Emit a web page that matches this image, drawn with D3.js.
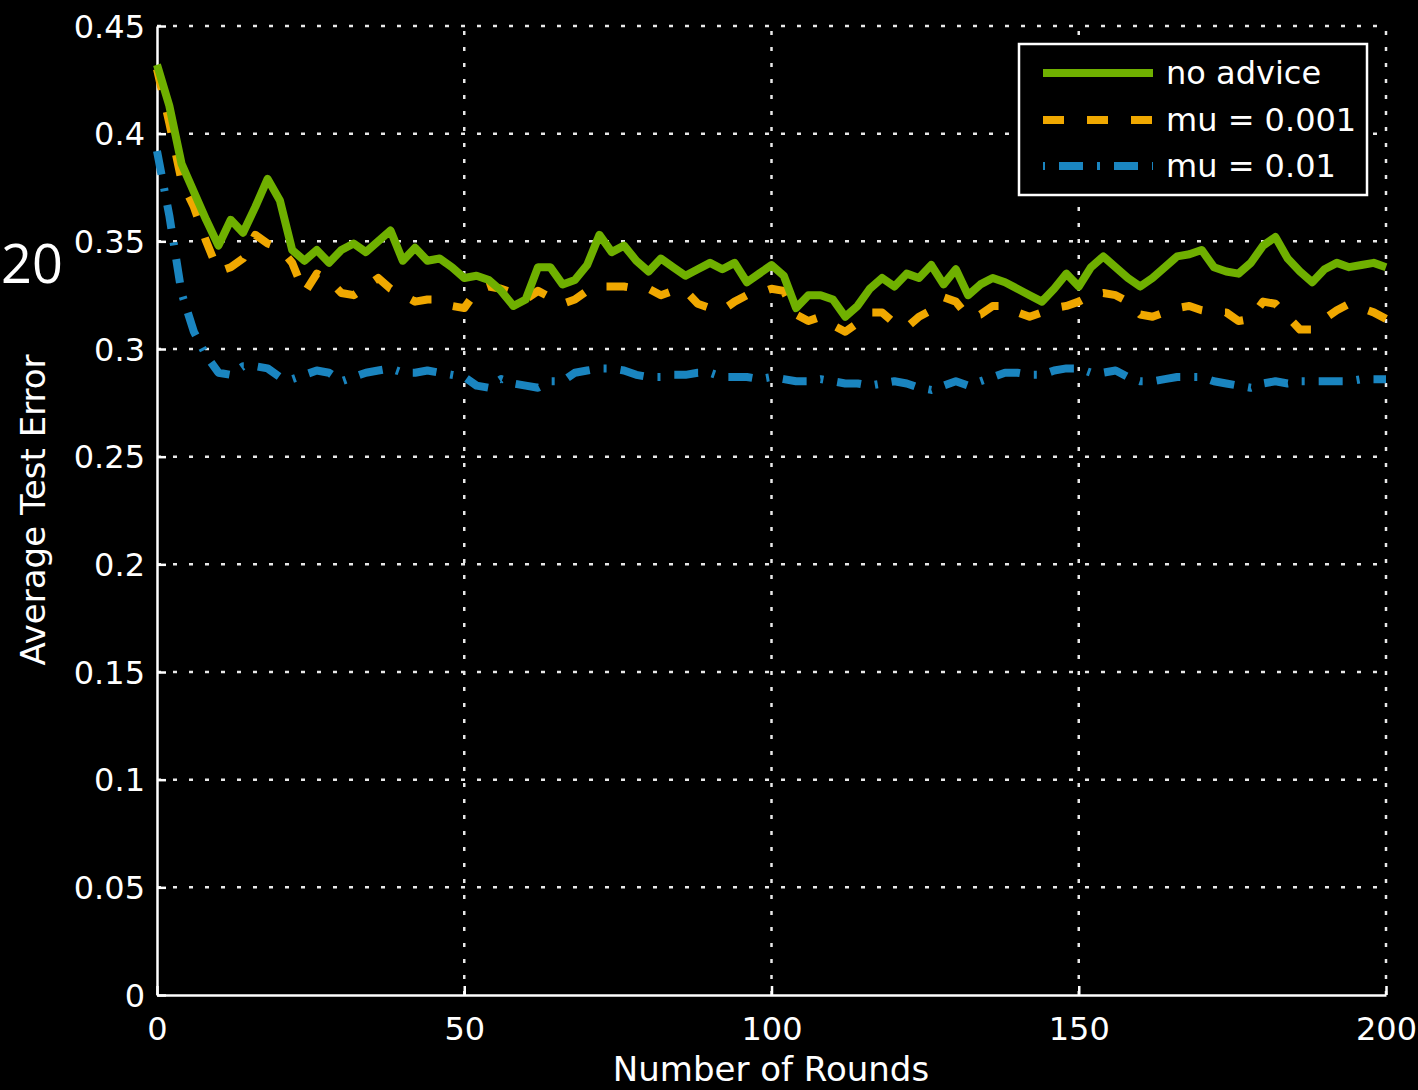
<!DOCTYPE html>
<html><head><meta charset="utf-8">
<script src="https://cdn.jsdelivr.net/npm/d3@7"></script>
<style>html,body{margin:0;padding:0;background:#000;overflow:hidden}</style>
</head><body>
<svg id="c" width="1418" height="1090"></svg>
<script>
const rounds = d3.range(0, 201, 2);
const noAdvice = [0.432,0.413,0.386,0.373,0.360,0.348,0.360,0.354,0.366,0.379,0.369,0.346,0.341,0.346,0.340,0.346,0.349,0.345,0.350,0.355,
0.341,0.347,0.341,0.342,0.338,0.333,0.334,0.332,0.327,0.320,0.323,0.338,0.338,0.330,0.332,0.339,0.353,0.345,0.348,0.341,
0.336,0.342,0.338,0.334,0.337,0.340,0.337,0.340,0.331,0.335,0.339,0.334,0.319,0.325,0.325,0.323,0.315,0.320,0.328,0.333,
0.329,0.335,0.333,0.339,0.330,0.337,0.325,0.330,0.333,0.331,0.328,0.325,0.322,0.328,0.335,0.329,0.338,0.343,0.338,0.333,
0.329,0.333,0.338,0.343,0.344,0.346,0.338,0.336,0.335,0.340,0.348,0.352,0.342,0.336,0.331,0.337,0.340,0.338,0.339,0.340,0.338];
const mu001 = [0.430,0.405,0.378,0.366,0.350,0.336,0.338,0.342,0.353,0.349,0.347,0.340,0.326,0.335,0.332,0.326,0.325,0.329,0.333,0.328,
0.325,0.322,0.323,0.323,0.320,0.319,0.327,0.329,0.328,0.326,0.323,0.327,0.324,0.321,0.323,0.327,0.329,0.329,0.329,0.328,
0.328,0.325,0.327,0.327,0.321,0.319,0.318,0.322,0.325,0.326,0.328,0.327,0.316,0.313,0.315,0.311,0.308,0.312,0.317,0.317,
0.312,0.310,0.315,0.318,0.324,0.322,0.315,0.316,0.320,0.320,0.317,0.315,0.317,0.319,0.320,0.322,0.325,0.326,0.325,0.322,
0.316,0.315,0.317,0.319,0.320,0.318,0.317,0.317,0.313,0.314,0.322,0.321,0.315,0.309,0.309,0.314,0.318,0.321,0.319,0.317,0.314];
const mu01 = [0.392,0.362,0.326,0.308,0.297,0.289,0.288,0.292,0.292,0.291,0.287,0.286,0.288,0.290,0.289,0.285,0.287,0.289,0.290,0.291,
0.289,0.289,0.290,0.289,0.288,0.287,0.283,0.282,0.286,0.284,0.283,0.282,0.285,0.285,0.289,0.290,0.291,0.291,0.290,0.288,
0.287,0.287,0.288,0.288,0.289,0.289,0.287,0.287,0.287,0.286,0.287,0.286,0.285,0.285,0.286,0.285,0.284,0.284,0.283,0.284,
0.285,0.284,0.282,0.281,0.283,0.285,0.283,0.285,0.287,0.289,0.289,0.288,0.288,0.290,0.291,0.291,0.289,0.289,0.290,0.287,
0.285,0.285,0.286,0.287,0.287,0.287,0.285,0.284,0.283,0.282,0.284,0.285,0.284,0.285,0.285,0.285,0.285,0.285,0.286,0.286,0.286];
const seriesNames = ["no advice", "mu = 0.001", "mu = 0.01"];
const xTicks = [0, 50, 100, 150, 200];
const yTicks = [0, 0.05, 0.1, 0.15, 0.2, 0.25, 0.3, 0.35, 0.4, 0.45];
const yTickLabels = ["0","0.05","0.1","0.15","0.2","0.25","0.3","0.35","0.4","0.45"];

const svg = d3.select("#c");
const L = 157, R = 1386, T = 26, B = 995;
const x = d3.scaleLinear().domain([0, 200]).range([L, R]);
const y = d3.scaleLinear().domain([0, 0.45]).range([B, T]);
const font = "'DejaVu Sans', sans-serif";

svg.append("rect").attr("width",1418).attr("height",1090).attr("fill","#000");

// grid
const g = svg.append("g");
g.selectAll(".gx").data(xTicks.slice(1)).join("line")
  .attr("x1", d => x(d)).attr("x2", d => x(d)).attr("y1", B).attr("y2", T)
  .attr("stroke", "#e8e8e8").attr("stroke-width", 2.5).attr("stroke-dasharray", "4,12");
g.selectAll(".gy").data(yTicks.slice(1)).join("line")
  .attr("x1", L).attr("x2", R).attr("y1", d => y(d)).attr("y2", d => y(d))
  .attr("stroke", "#e8e8e8").attr("stroke-width", 2.5).attr("stroke-dasharray", "4,12");

// axes
const xAxis = d3.axisBottom(x).tickValues(xTicks).tickSizeInner(-9).tickSizeOuter(0).tickPadding(22);
const yAxis = d3.axisLeft(y).tickValues(yTicks).tickSizeInner(-9).tickSizeOuter(0).tickPadding(12)
  .tickFormat((d,i) => yTickLabels[i]);
const gx = svg.append("g").attr("transform", `translate(0,${B})`).call(xAxis);
const gy = svg.append("g").attr("transform", `translate(${L},0)`).call(yAxis);
[gx, gy].forEach(a => {
  a.select(".domain").attr("stroke", "#fff").attr("stroke-width", 2.5);
  a.selectAll(".tick line").attr("stroke", "#fff").attr("stroke-width", 2.5);
  a.selectAll(".tick text").attr("fill", "#fff").style("font-family", font).style("font-size", "32px");
});
gx.selectAll(".tick text").attr("dy", "0.71em");
gy.selectAll(".tick text").attr("dy", "0.35em");

// lines
const line = vals => d3.line().x((d,i) => x(rounds[i])).y(d => y(d))(vals);
const styles = [
  {data: noAdvice, color: "#6fb000", dash: null},
  {data: mu001, color: "#f0a800", dash: "21,23"},
  {data: mu01, color: "#1a85c0", dash: "24,14,3,14"}
];
const plot = svg.append("g");
[2,1,0].forEach(i => {
  const s = styles[i];
  plot.append("path").attr("d", line(s.data)).attr("fill","none")
    .attr("stroke", s.color).attr("stroke-width", 8)
    .attr("stroke-linejoin","round")
    .attr("stroke-dasharray", s.dash);
});

// legend
const lg = svg.append("g");
lg.append("rect").attr("x",1019).attr("y",44).attr("width",348).attr("height",151)
  .attr("fill","#000").attr("stroke","#fff").attr("stroke-width",2.5);
const rowsY = [73, 120, 166];
seriesNames.forEach((n,i) => {
  const s = styles[i];
  lg.append("line").attr("x1",1043).attr("x2",1153).attr("y1",rowsY[i]).attr("y2",rowsY[i])
    .attr("stroke", s.color).attr("stroke-width", 8).attr("stroke-dasharray", i===2 ? "2,14,24,14,3,14,24,14,3" : s.dash);
  lg.append("text").attr("x",1166).attr("y",rowsY[i]).attr("dy","0.35em")
    .attr("fill","#fff").style("font-family",font).style("font-size","32px").text(n);
});

// axis titles
svg.append("text").attr("x", 771).attr("y", 1081).attr("text-anchor","middle")
  .attr("fill","#fff").style("font-family",font).style("font-size","34px").text("Number of Rounds");
svg.append("text").attr("transform","translate(45,510) rotate(-90)").attr("text-anchor","middle")
  .attr("fill","#fff").style("font-family",font).style("font-size","34px").text("Average Test Error");

// stray label
svg.append("text").attr("x", 1).attr("y", 283).attr("fill","#fff")
  .style("font-family","'Open Sans', sans-serif").style("font-size","54px").text("20");
</script>
</body></html>
